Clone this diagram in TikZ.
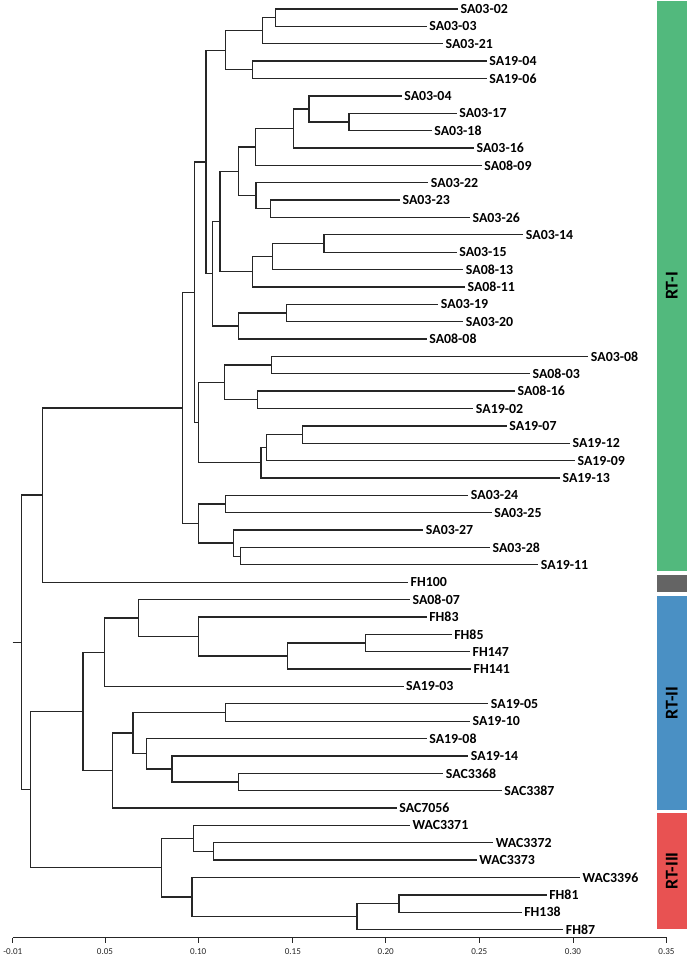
\documentclass[tikz,border=0pt]{standalone}
\usepackage{fontspec}
\setmainfont{Carlito}
\definecolor{rtgreen}{RGB}{82,185,125}
\definecolor{rtgray}{RGB}{100,100,100}
\definecolor{rtblue}{RGB}{74,144,196}
\definecolor{rtred}{RGB}{232,82,82}
\begin{document}
\begin{tikzpicture}[x=0.75pt,y=-0.75pt,
  br/.style={draw=black!85, line width=0.95pt},
  leaf/.style={anchor=west, inner xsep=1.8pt, inner ysep=0pt, font=\bfseries\fontsize{10.4}{12}\selectfont, text=black},
  ticklbl/.style={font=\fontsize{6.8}{8}\selectfont, text=black!85, inner sep=0pt},
  barlbl/.style={rotate=90, font=\bfseries\fontsize{13.5}{15}\selectfont, text=black, inner sep=0pt}]
\useasboundingbox (0,0) rectangle (690,957);

% ---- leaves ----
\node[leaf] (SA0302) at (458,9) {SA03-02};
\node[leaf] (SA0303) at (426.7,26.4) {SA03-03};
\node[leaf] (SA0321) at (443,43.7) {SA03-21};
\node[leaf] (SA1904) at (486.7,61.1) {SA19-04};
\node[leaf] (SA1906) at (486.7,78.5) {SA19-06};
\node[leaf] (SA0304) at (401.7,95.9) {SA03-04};
\node[leaf] (SA0317) at (456.7,113.2) {SA03-17};
\node[leaf] (SA0318) at (431.7,130.6) {SA03-18};
\node[leaf] (SA0316) at (474,148) {SA03-16};
\node[leaf] (SA0809) at (481.7,165.3) {SA08-09};
\node[leaf] (SA0322) at (428.3,182.7) {SA03-22};
\node[leaf] (SA0323) at (400,200.1) {SA03-23};
\node[leaf] (SA0326) at (470,217.4) {SA03-26};
\node[leaf] (SA0314) at (523.3,234.8) {SA03-14};
\node[leaf] (SA0315) at (456.7,252.2) {SA03-15};
\node[leaf] (SA0813) at (463.3,269.6) {SA08-13};
\node[leaf] (SA0811) at (465,286.9) {SA08-11};
\node[leaf] (SA0319) at (438.3,304.3) {SA03-19};
\node[leaf] (SA0320) at (463.3,321.7) {SA03-20};
\node[leaf] (SA0808) at (426.7,339) {SA08-08};
\node[leaf] (SA0308) at (588.3,356.4) {SA03-08};
\node[leaf] (SA0803) at (530,373.8) {SA08-03};
\node[leaf] (SA0816) at (515,391.1) {SA08-16};
\node[leaf] (SA1902) at (473.3,408.5) {SA19-02};
\node[leaf] (SA1907) at (506.7,425.9) {SA19-07};
\node[leaf] (SA1912) at (570,443.2) {SA19-12};
\node[leaf] (SA1909) at (575,460.6) {SA19-09};
\node[leaf] (SA1913) at (560,478) {SA19-13};
\node[leaf] (SA0324) at (468.3,495.4) {SA03-24};
\node[leaf] (SA0325) at (491.7,512.7) {SA03-25};
\node[leaf] (SA0327) at (423.3,530.1) {SA03-27};
\node[leaf] (SA0328) at (490,547.5) {SA03-28};
\node[leaf] (SA1911) at (538.3,564.8) {SA19-11};
\node[leaf] (FH100) at (408,582.2) {FH100};
\node[leaf] (SA0807) at (410,599.6) {SA08-07};
\node[leaf] (FH83) at (426.7,616.9) {FH83};
\node[leaf] (FH85) at (451.7,634.3) {FH85};
\node[leaf] (FH147) at (470,651.7) {FH147};
\node[leaf] (FH141) at (471,669) {FH141};
\node[leaf] (SA1903) at (403.5,686.4) {SA19-03};
\node[leaf] (SA1905) at (488.3,703.8) {SA19-05};
\node[leaf] (SA1910) at (470,721.2) {SA19-10};
\node[leaf] (SA1908) at (426.7,738.5) {SA19-08};
\node[leaf] (SA1914) at (468.3,755.9) {SA19-14};
\node[leaf] (SAC3368) at (443.3,773.3) {SAC3368};
\node[leaf] (SAC3387) at (501.7,790.6) {SAC3387};
\node[leaf] (SAC7056) at (396.7,808) {SAC7056};
\node[leaf] (WAC3371) at (410,825.4) {WAC3371};
\node[leaf] (WAC3372) at (493.3,842.7) {WAC3372};
\node[leaf] (WAC3373) at (476.7,860.1) {WAC3373};
\node[leaf] (WAC3396) at (580,877.5) {WAC3396};
\node[leaf] (FH81) at (546.7,894.9) {FH81};
\node[leaf] (FH138) at (521.7,912.2) {FH138};
\node[leaf] (FH87) at (563.3,929.6) {FH87};

% ---- internal nodes ----
\coordinate (a1) at (275.7,17.7);
\coordinate (a2) at (262.7,30.7);
\coordinate (a3) at (252.7,69.8);
\coordinate (A) at (225.3,50.25);
\coordinate (b1) at (349,121.9);
\coordinate (b2) at (309,108.9);
\coordinate (b3) at (293.3,128.45);
\coordinate (b4) at (255.3,146.9);
\coordinate (b5) at (270.7,208.75);
\coordinate (b6) at (256,195.7);
\coordinate (B) at (238.7,171.3);
\coordinate (c1) at (324,243.5);
\coordinate (c2) at (272.7,256.55);
\coordinate (C) at (252.7,271.7);
\coordinate (BC) at (220,221.5);
\coordinate (d1) at (286.7,313);
\coordinate (D) at (238.7,326);
\coordinate (BCD) at (212.7,273.75);
\coordinate (E) at (206,162);
\coordinate (g1) at (271.7,365.1);
\coordinate (g2) at (257.7,399.8);
\coordinate (g3) at (224.3,382.45);
\coordinate (g4) at (302.7,434.55);
\coordinate (g5) at (266.7,447.6);
\coordinate (g6) at (261,462.8);
\coordinate (G) at (198.3,422.6);
\coordinate (EG) at (194.3,292.3);
\coordinate (h1) at (225.7,504);
\coordinate (h2) at (240.7,556.15);
\coordinate (h3) at (233.3,543.1);
\coordinate (H) at (198.3,523.6);
\coordinate (F) at (182.7,407.95);
\coordinate (R1) at (42.3,495.1);
\coordinate (p1) at (365.4,643);
\coordinate (p2) at (287.5,656);
\coordinate (p3) at (198.2,636.45);
\coordinate (p4) at (138.2,618);
\coordinate (p5) at (104.3,652.2);
\coordinate (q1) at (225.7,712.5);
\coordinate (q2) at (238.6,782);
\coordinate (q3) at (172.1,769);
\coordinate (q4) at (146.4,753.75);
\coordinate (q5) at (132.9,733.1);
\coordinate (q6) at (112.5,770.55);
\coordinate (R2) at (82.9,711.4);
\coordinate (r1) at (213.2,851.4);
\coordinate (r2) at (193.6,838.4);
\coordinate (r3) at (398.9,903.55);
\coordinate (r4) at (357.1,916.6);
\coordinate (r5) at (192.1,897);
\coordinate (R3) at (161.4,867.7);
\coordinate (R23) at (30.4,789.5);
\coordinate (root) at (21.4,642.3);
\coordinate (stub) at (12.5,642.3);

% ---- branches ----
\draw[br] (a1) |- (SA0302.west) (a1) |- (SA0303.west);
\draw[br] (a2) |- (a1) (a2) |- (SA0321.west);
\draw[br] (a3) |- (SA1904.west) (a3) |- (SA1906.west);
\draw[br] (A) |- (a2) (A) |- (a3);
\draw[br] (b1) |- (SA0317.west) (b1) |- (SA0318.west);
\draw[br] (b2) |- (SA0304.west) (b2) |- (b1);
\draw[br] (b3) |- (b2) (b3) |- (SA0316.west);
\draw[br] (b4) |- (b3) (b4) |- (SA0809.west);
\draw[br] (b5) |- (SA0323.west) (b5) |- (SA0326.west);
\draw[br] (b6) |- (SA0322.west) (b6) |- (b5);
\draw[br] (B) |- (b4) (B) |- (b6);
\draw[br] (c1) |- (SA0314.west) (c1) |- (SA0315.west);
\draw[br] (c2) |- (c1) (c2) |- (SA0813.west);
\draw[br] (C) |- (c2) (C) |- (SA0811.west);
\draw[br] (BC) |- (B) (BC) |- (C);
\draw[br] (d1) |- (SA0319.west) (d1) |- (SA0320.west);
\draw[br] (D) |- (d1) (D) |- (SA0808.west);
\draw[br] (BCD) |- (BC) (BCD) |- (D);
\draw[br] (E) |- (A) (E) |- (BCD);
\draw[br] (g1) |- (SA0308.west) (g1) |- (SA0803.west);
\draw[br] (g2) |- (SA0816.west) (g2) |- (SA1902.west);
\draw[br] (g3) |- (g1) (g3) |- (g2);
\draw[br] (g4) |- (SA1907.west) (g4) |- (SA1912.west);
\draw[br] (g5) |- (g4) (g5) |- (SA1909.west);
\draw[br] (g6) |- (g5) (g6) |- (SA1913.west);
\draw[br] (G) |- (g3) (G) |- (g6);
\draw[br] (EG) |- (E) (EG) |- (G);
\draw[br] (h1) |- (SA0324.west) (h1) |- (SA0325.west);
\draw[br] (h2) |- (SA0328.west) (h2) |- (SA1911.west);
\draw[br] (h3) |- (SA0327.west) (h3) |- (h2);
\draw[br] (H) |- (h1) (H) |- (h3);
\draw[br] (F) |- (EG) (F) |- (H);
\draw[br] (R1) |- (F) (R1) |- (FH100.west);
\draw[br] (p1) |- (FH85.west) (p1) |- (FH147.west);
\draw[br] (p2) |- (p1) (p2) |- (FH141.west);
\draw[br] (p3) |- (FH83.west) (p3) |- (p2);
\draw[br] (p4) |- (SA0807.west) (p4) |- (p3);
\draw[br] (p5) |- (p4) (p5) |- (SA1903.west);
\draw[br] (q1) |- (SA1905.west) (q1) |- (SA1910.west);
\draw[br] (q2) |- (SAC3368.west) (q2) |- (SAC3387.west);
\draw[br] (q3) |- (SA1914.west) (q3) |- (q2);
\draw[br] (q4) |- (SA1908.west) (q4) |- (q3);
\draw[br] (q5) |- (q1) (q5) |- (q4);
\draw[br] (q6) |- (q5) (q6) |- (SAC7056.west);
\draw[br] (R2) |- (p5) (R2) |- (q6);
\draw[br] (r1) |- (WAC3372.west) (r1) |- (WAC3373.west);
\draw[br] (r2) |- (WAC3371.west) (r2) |- (r1);
\draw[br] (r3) |- (FH81.west) (r3) |- (FH138.west);
\draw[br] (r4) |- (r3) (r4) |- (FH87.west);
\draw[br] (r5) |- (WAC3396.west) (r5) |- (r4);
\draw[br] (R3) |- (r2) (R3) |- (r5);
\draw[br] (R23) |- (R2) (R23) |- (R3);
\draw[br] (root) |- (R1) (root) |- (R23);
\draw[br] (stub) -- (root);

% ---- axis ----
\coordinate (ax0) at (12.9,937.7);
\coordinate (ax1) at (666.5,937.7);
\draw[br, line width=0.75pt] (ax0) -- (ax1);
\foreach \x/\l [count=\i] in {12.9/-0.01,105/0.05,198.2/0.10,292.9/0.15,385.7/0.20,479.3/0.25,573/0.30,666.5/0.35}{
  \draw[br, line width=0.75pt] (\x,937.7) -- (\x,942.5);
  \node[ticklbl] (tk\i) at (\x,951.5) {\l};
}

% ---- group bars ----
\fill[rtgreen] (657,1) rectangle (686.5,571);
\fill[rtgray] (657,574.5) rectangle (686.5,592);
\fill[rtblue] (657,596) rectangle (686.5,809.5);
\fill[rtred] (657,813) rectangle (686.5,929);
\node[barlbl] (lbl1) at (671.8,286) {RT-I};
\node[barlbl] (lbl2) at (671.8,703) {RT-II};
\node[barlbl] (lbl3) at (671.8,871) {RT-III};
\end{tikzpicture}
\end{document}
